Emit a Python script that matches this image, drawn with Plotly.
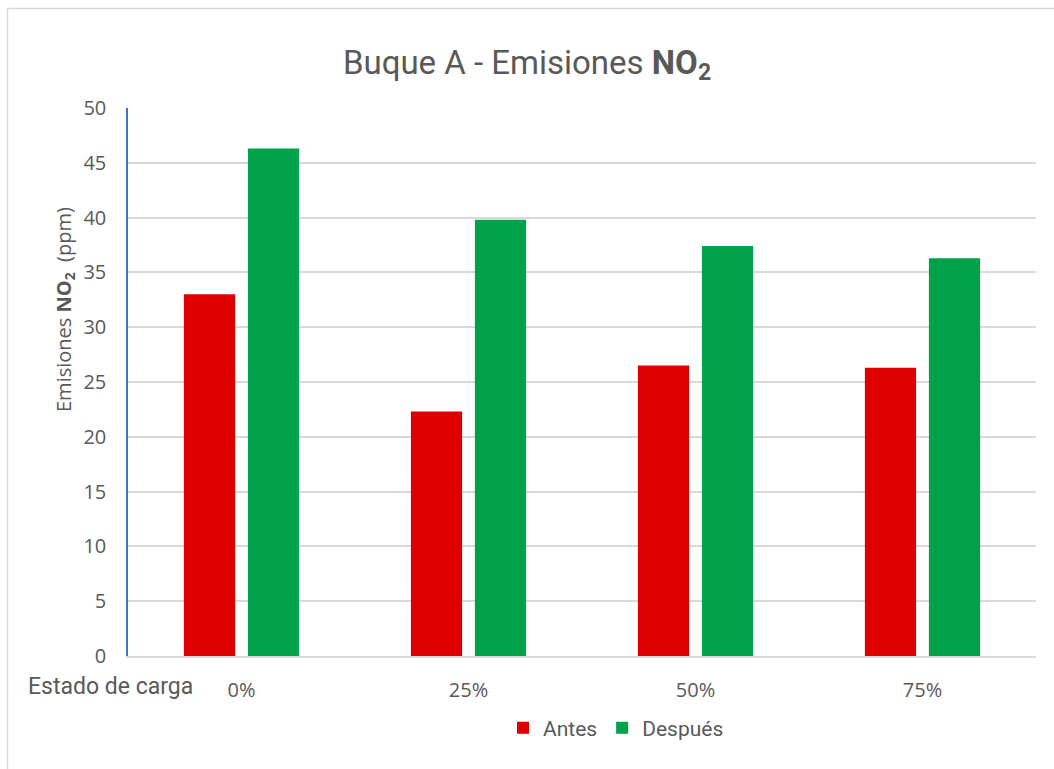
import plotly.graph_objects as go

# Load states and NO2 emissions (ppm) before and after
estados = ["0%", "25%", "50%", "75%"]
antes = [33.0, 22.3, 26.5, 26.3]
despues = [46.3, 39.8, 37.4, 36.3]
y_ticks = [0, 5, 10, 15, 20, 25, 30, 35, 40, 45, 50]

W, H = 1054, 769
L, R, T, B = 128, 18, 108, 113
PW, PH = W - L - R, H - T - B

def px_x(px):
    return (px - L) / PW

def px_y(py):
    return (H - B - py) / PH

TXT = "#595959"
NUM_FONT = "Open Sans, DejaVu Sans, sans-serif"
NARROW_FONT = "Roboto, sans-serif"

fig = go.Figure()
fig.add_trace(go.Bar(name="Antes", x=estados, y=antes, marker_color="#DE0000",
                     marker_line_width=0))
fig.add_trace(go.Bar(name="Después", x=estados, y=despues, marker_color="#00A14B",
                     marker_line_width=0))

fig.update_layout(
    width=W, height=H,
    margin=dict(l=L, r=R, t=T, b=B, autoexpand=False),
    paper_bgcolor="white", plot_bgcolor="white",
    barmode="group", bargap=0.436, bargroupgap=0.2,
    title=dict(text="Buque A - Emisiones <b>NO<sub>2</sub></b>",
               x=527 / W, xanchor="center",
               y=1 - 62 / H, yanchor="middle",
               font=dict(family=NARROW_FONT, size=33, color=TXT)),
    legend=dict(orientation="h", x=px_x(503), xanchor="left",
                y=px_y(728), yanchor="middle",
                font=dict(family=NARROW_FONT, size=21, color=TXT),
                itemwidth=30, traceorder="normal", bgcolor="rgba(0,0,0,0)"),
    showlegend=True,
)

fig.update_xaxes(showgrid=False, showline=True, linecolor="#D9D9D9", linewidth=1.5,
                 ticks="", ticklabelstandoff=15,
                 tickfont=dict(family=NUM_FONT, size=20, color=TXT),
                 fixedrange=True)
fig.update_yaxes(range=[0, 50], tickvals=y_ticks, showgrid=True, gridcolor="#D9D9D9",
                 gridwidth=1.5, showline=True, linecolor="#4472C4", linewidth=1.5,
                 zeroline=False, ticks="", ticklabelstandoff=16,
                 tickfont=dict(family=NUM_FONT, size=20, color=TXT))

# Axis titles
fig.add_annotation(text="Emisiones <b>NO<sub>2</sub></b>  (ppm)", textangle=-90,
                   x=px_x(64), y=px_y(310), xref="paper", yref="paper",
                   xanchor="center", yanchor="middle", showarrow=False,
                   font=dict(family=NUM_FONT, size=20, color=TXT))
fig.add_annotation(text="Estado de carga",
                   x=px_x(26), y=px_y(686), xref="paper", yref="paper",
                   xanchor="left", yanchor="middle", showarrow=False,
                   font=dict(family=NARROW_FONT, size=23, color=TXT))

# Chart border
fig.add_shape(type="rect", xref="paper", yref="paper",
              x0=px_x(7.5), x1=px_x(1060), y0=px_y(775), y1=px_y(8.5),
              line=dict(color="#D9D9D9", width=1.5), fillcolor="rgba(0,0,0,0)",
              layer="below")

fig.write_html("out.html")
